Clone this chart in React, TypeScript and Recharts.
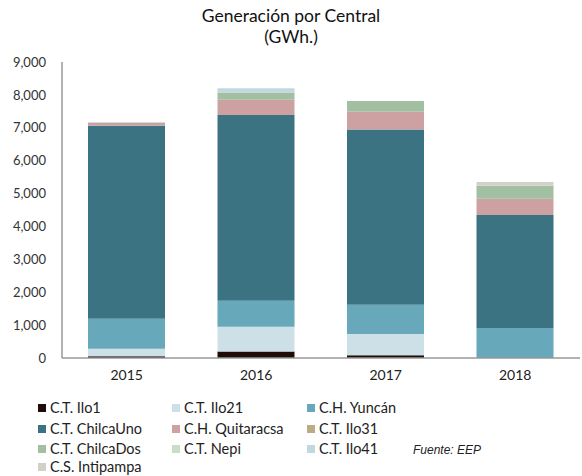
import React from "react";
import { BarChart, Bar, XAxis, YAxis } from "recharts";

const years = ["2015", "2016", "2017", "2018"];
const ilo1 = [50, 200, 80, 0];
const ilo21 = [230, 750, 650, 0];
const yuncan = [915, 790, 890, 912];
const chilcaUno = [5868, 5645, 5330, 3436];
const quitaracsa = [92, 465, 540, 495];
const ilo31 = [0, 0, 0, 0];
const chilcaDos = [0, 220, 323, 397];
const nepi = [0, 0, 0, 0];
const ilo41 = [20, 135, 0, 0];
const intipampa = [0, 0, 0, 110];
const yTicks = [0, 1000, 2000, 3000, 4000, 5000, 6000, 7000, 8000, 9000];

const series = [
  { key: "ilo1", name: "C.T. Ilo1", values: ilo1, color: "#1f0c0a" },
  { key: "ilo21", name: "C.T. Ilo21", values: ilo21, color: "#cde0e7" },
  { key: "yuncan", name: "C.H. Yuncán", values: yuncan, color: "#67a8ba" },
  { key: "chilcaUno", name: "C.T. ChilcaUno", values: chilcaUno, color: "#3c7382" },
  { key: "quitaracsa", name: "C.H. Quitaracsa", values: quitaracsa, color: "#cda1a1" },
  { key: "ilo31", name: "C.T. Ilo31", values: ilo31, color: "#b8ad84" },
  { key: "chilcaDos", name: "C.T. ChilcaDos", values: chilcaDos, color: "#a2bfa2" },
  { key: "nepi", name: "C.T. Nepi", values: nepi, color: "#c8dcc8" },
  { key: "ilo41", name: "C.T. Ilo41", values: ilo41, color: "#c2d8e0" },
  { key: "intipampa", name: "C.S. Intipampa", values: intipampa, color: "#d3d0c7" },
];

const data = years.map((y, i) => {
  const row: Record<string, any> = { year: y };
  series.forEach((s) => (row[s.key] = s.values[i]));
  return row;
});

const FONT = "Lato, 'Open Sans', sans-serif";
const fmt = (v: number) => v.toLocaleString("en-US");

export default function App() {
  const legendCols = [42, 176, 311];
  const legendRows = [408, 429, 449, 467];
  return (
    <div style={{ position: "absolute", left: 0, top: 0, width: 582, height: 476, background: "#fff", fontFamily: FONT, overflow: "hidden" }}>
      <div style={{ position: "absolute", left: 0, top: 5, width: 582, textAlign: "center", fontSize: 17.5, lineHeight: "21px", color: "#111" }}>
        Generación por Central
        <br />
        (GWh.)
      </div>
      <BarChart
        width={582}
        height={476}
        data={data}
        margin={{ top: 62, right: 2, bottom: 88, left: 0 }}
        barSize={77}
      >
        <XAxis
          dataKey="year"
          tickLine={false}
          axisLine={{ stroke: "#999", strokeWidth: 1.5 }}
          tick={{ fill: "#222", fontSize: 14, fontFamily: FONT }}
          tickMargin={6}
        />
        <YAxis
          width={62}
          domain={[0, 9000]}
          ticks={yTicks}
          interval={0}
          tickFormatter={fmt}
          tickLine={false}
          axisLine={{ stroke: "#666", strokeWidth: 1 }}
          tick={{ fill: "#333", fontSize: 13, fontFamily: FONT }}
          tickMargin={10}
        />
        {series.map((s) => (
          <Bar
            key={s.key}
            dataKey={s.key}
            name={s.name}
            stackId="a"
            fill={s.color}
            isAnimationActive={false}
          />
        ))}
      </BarChart>
      {series.map((s, i) => {
        const col = i % 3;
        const row = Math.floor(i / 3);
        return (
          <div
            key={s.key}
            style={{
              position: "absolute",
              left: legendCols[col] - 4,
              top: legendRows[row] - 7,
              height: 14,
              lineHeight: "14px",
              display: "flex",
              alignItems: "center",
              fontSize: 14.5,
              color: "#222",
              whiteSpace: "nowrap",
            }}
          >
            <span style={{ display: "inline-block", width: 8, height: 8, background: s.color, marginRight: 4 }} />
            {s.name}
          </div>
        );
      })}
      <div
        style={{
          position: "absolute",
          left: 413,
          top: 443,
          fontSize: 12,
          fontStyle: "italic",
          fontFamily: "'Liberation Sans', Arial, sans-serif",
          color: "#222",
        }}
      >
        Fuente: EEP
      </div>
    </div>
  );
}
